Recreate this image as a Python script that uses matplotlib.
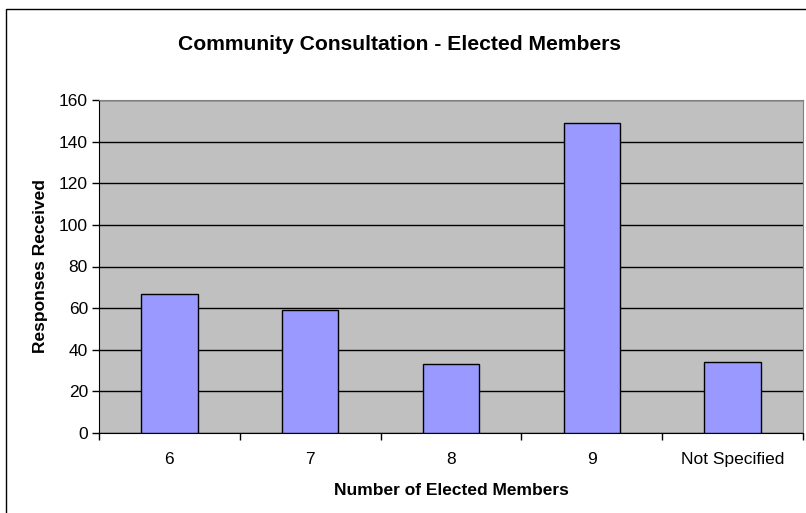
import matplotlib.pyplot as plt
from matplotlib.patches import Rectangle

plt.rcParams['font.family'] = ['Liberation Sans', 'DejaVu Sans']

# chart data
categories = ['6', '7', '8', '9', 'Not Specified']
responses = [67, 59, 33, 149, 34]
y_ticks = [0, 20, 40, 60, 80, 100, 120, 140, 160]

fig = plt.figure(figsize=(8.06, 5.13), dpi=100)
ax = fig.add_axes([99 / 806, 1 - 433 / 513, 704 / 806, 333 / 513])

# outer chart border (right/bottom run off the image)
fig.patches.append(Rectangle((6 / 806, -0.1), 1.1, 1 - 9 / 513 + 0.1,
                             transform=fig.transFigure, fill=False,
                             edgecolor='black', linewidth=1.0))

x = list(range(len(categories)))
ax.set_facecolor('#C0C0C0')
ax.bar(x, responses, width=0.4, color='#9999FF', edgecolor='black',
       linewidth=1.0, zorder=3)

ax.set_xlim(-0.5, len(categories) - 0.5)
ax.set_ylim(0, 160)
ax.set_yticks(y_ticks)
ax.yaxis.grid(True, color='black', linewidth=1.0, zorder=1)
ax.set_axisbelow(True)

ax.set_xticks(x)
ax.set_xticklabels(categories, fontsize=12.5)
ax.set_xticks([i - 0.5 for i in range(len(categories) + 1)], minor=True)
ax.tick_params(axis='x', which='major', length=0, pad=14)
ax.tick_params(axis='x', which='minor', length=5, direction='out', width=1)
ax.tick_params(axis='y', length=5, direction='out', width=1, labelsize=12.5, pad=3)

for side in ['top', 'right']:
    ax.spines[side].set_color('#808080')
for side in ['left', 'bottom']:
    ax.spines[side].set_color('black')

ax.set_xlabel('Number of Elected Members', fontsize=12.5, fontweight='bold', labelpad=11)
ax.set_ylabel('Responses Received', fontsize=12.5, fontweight='bold', labelpad=8)
fig.text(399 / 806, 1 - 44 / 513, 'Community Consultation - Elected Members',
         ha='center', va='center', fontsize=15.2, fontweight='bold')

fig.savefig('out.png', dpi=100)
